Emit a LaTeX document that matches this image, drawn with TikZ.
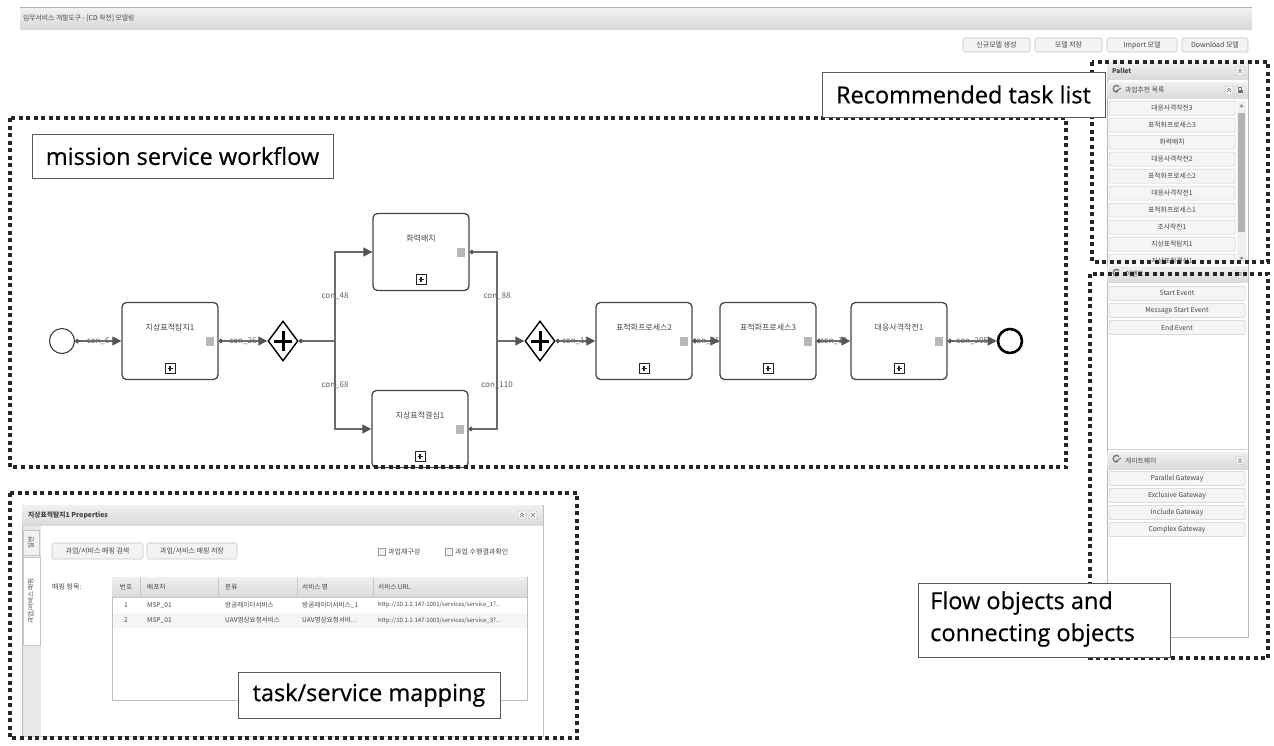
\documentclass[tikz,border=0pt]{standalone}
\usepackage{fontspec}
\setmainfont{Noto Sans CJK KR}
\newfontfamily\lblfont{Open Sans}[FakeBold=0.5]
\usetikzlibrary{arrows.meta,shapes.geometric}
\definecolor{lnc}{HTML}{6B6B6B}
\definecolor{arc}{HTML}{555555}
\definecolor{txc}{HTML}{474747}
\definecolor{btnf}{HTML}{F3F3F3}
\definecolor{btnd}{HTML}{C6C6C6}
\definecolor{hdrt}{HTML}{F0F0F0}
\definecolor{hdrb}{HTML}{DADADA}
\tikzset{
  fsz/.style={font=\fontsize{#1}{#1}\selectfont},
  dotframe/.style={draw=black!85, line width=4pt, dash pattern=on 4pt off 3.5pt},
  lblbox/.style={draw=black!65, fill=white, line width=0.8pt, inner sep=0pt,
    font=\lblfont\fontsize{23.5}{26}\selectfont, text=black},
  task/.style={draw=black!72, line width=1.3pt, rounded corners=4.5pt, fill=white,
    minimum width=96pt, minimum height=77pt, inner sep=0pt},
  tasktext/.style={font=\fontsize{8}{8}\selectfont, text=txc, inner sep=0pt},
  portsq/.style={fill=black!28, minimum width=8pt, minimum height=9pt, inner sep=0pt},
  plusic/.style={draw=black!85, line width=1pt, minimum size=10pt, inner sep=0pt,
    path picture={\draw[line width=1.1pt]
      ([xshift=2.5pt]path picture bounding box.west) -- ([xshift=-2.5pt]path picture bounding box.east)
      ([yshift=-2.5pt]path picture bounding box.north) -- ([yshift=2.5pt]path picture bounding box.south);}},
  gate/.style={diamond, draw=black, line width=1.4pt, fill=white, minimum width=30pt,
    minimum height=40pt, inner sep=0pt,
    path picture={\draw[line width=3pt]
      ([xshift=-9pt]path picture bounding box.center) -- ([xshift=9pt]path picture bounding box.center)
      ([yshift=-10pt]path picture bounding box.center) -- ([yshift=10pt]path picture bounding box.center);}},
  startev/.style={circle, draw=black!80, line width=1pt, minimum size=25pt, inner sep=0pt, fill=white},
  endev/.style={circle, draw=black, line width=2.6pt, minimum size=24pt, inner sep=0pt, fill=white},
  flow/.style={draw=lnc, line width=1.2pt,
    {Circle[length=4.5pt,color=arc]}-{Triangle[length=9pt,width=9pt,color=arc]}},
  flowline/.style={draw=lnc, line width=1.2pt, {Circle[length=4.5pt,color=arc]}-},
  flowend/.style={draw=lnc, line width=1.2pt, -{Triangle[length=9pt,width=9pt,color=arc]}},
  conlab/.style={font=\fontsize{8}{8}\selectfont, text=black!62, inner sep=0pt},
  btn/.style={draw=btnd, fill=btnf, rounded corners=1.5pt, line width=0.6pt,
    font=\fontsize{7}{8}\selectfont, text=txc, inner sep=0pt, minimum height=14pt},
  palitem/.style={draw=black!20, fill=black!4, rounded corners=1pt, line width=0.5pt,
    minimum height=14pt, inner sep=0pt, font=\fontsize{6.8}{8}\selectfont, text=txc},
  uitext/.style={font=\fontsize{7}{8}\selectfont, text=txc, inner sep=0pt},
  uibold/.style={font=\bfseries\fontsize{7}{8}\selectfont, text=black!75, inner sep=0pt},
  tcell/.style={font=\fontsize{6.6}{8}\selectfont, text=txc, inner sep=0pt, anchor=west},
}
\newcommand\mychev[3]{%
  \node[draw=black!30, fill=black!3, rounded corners=1pt, minimum size=8pt, inner sep=0pt] (#1) at (#2,#3) {};
  \draw[black!55, line width=0.5pt] (#2-2,#3) -- (#2,#3-2) -- (#2+2,#3) (#2-2,#3+2.2) -- (#2,#3+0.2) -- (#2+2,#3+2.2);}
\newcommand\mktask[4]{%
  \node[task] (#1) at (#2,#3) {};
  \node[tasktext] (#1l) at (#2,#3-13.5) {#4};
  \node[plusic] (#1p) at (#2,#3+27.5) {};
  \node[portsq] (#1q) at (#2+40,#3) {};}
\begin{document}
\begin{tikzpicture}[x=1pt,y=-1pt]
\useasboundingbox (0,0) rectangle (1274,745);
\fill[white] (0,0) rectangle (1274,745);

% ---------- top bar ----------
\shade[top color=black!5, bottom color=black!15] (20,7) rectangle (1252,29);
\draw[black!30, line width=0.6pt] (20,7.3) -- (1252,7.3);
\node[uitext, anchor=west, fsz=6.8] (title) at (23,18) {임무서비스 개발도구 - [CD 작전] 모델링};

\node[btn, minimum width=67pt] (b1) at (996.5,45) {신규모델 생성};
\node[btn, minimum width=67pt] (b2) at (1068.5,45) {모델 저장};
\node[btn, minimum width=70pt] (b3) at (1142,45) {Import 모델};
\node[btn, minimum width=66pt] (b4) at (1215,45) {Download 모델};

% ---------- pallet ----------
\draw[black!28, fill=white, line width=0.6pt] (1107,62) rectangle (1248,637);
\shade[top color=hdrt, bottom color=hdrb] (1107.5,62.5) rectangle (1247.5,79);
\node[uibold, anchor=west, fsz=6.5] (pal) at (1112,71) {\bfseries Pallet};
\mychev{palc}{1240}{71}

\shade[top color=hdrt, bottom color=hdrb] (1107.5,82) rectangle (1247.5,98);
\draw[black!55, line width=1.3pt] (1119,86.5) arc[start angle=40, end angle=300, radius=3.3pt];
\draw[black!55, line width=1pt] (1115,92) -- (1121,88);
\node[uitext, anchor=west, fsz=6.8] (sec1) at (1125,90) {과업추천 목록};
\mychev{sec1c}{1229}{90}
\node[draw=black!30, fill=black!3, rounded corners=1pt, minimum size=8pt, inner sep=0pt] (sec1p) at (1240,90) {};
\fill[black!55] (1237.5,90) rectangle (1242.5,93);
\draw[black!55, line width=0.6pt] (1238.5,90) -- (1238.5,87.5) -- (1241.5,87.5) -- (1241.5,90);

\begin{scope}
\clip (1108,100) rectangle (1247,264);
\foreach \t [count=\i from 0] in {대응사격작전3,표적화프로세스3,화력배치,대응사격작전2,표적화프로세스2,대응사격작전1,표적화프로세스1,조사작전1,지상표적탐지1,지상표적결심1}
  {\node[palitem, minimum width=126pt] (rec\i) at (1172,{108+17*\i}) {\t};}
\fill[black!6] (1237,101) rectangle (1246,264);
\fill[black!30] (1238,113) rectangle (1245,232);
\fill[black!45] (1239.5,107) -- (1241.5,104) -- (1243.5,107) -- cycle;
\fill[black!45] (1239.5,257) -- (1241.5,260) -- (1243.5,257) -- cycle;
\end{scope}

\shade[top color=hdrt, bottom color=hdrb] (1107.5,266) rectangle (1247.5,282);
\node[uitext, anchor=west, fsz=6.8] (sec2) at (1125,274) {이벤트};
\draw[black!55, line width=1.3pt] (1119,270.5) arc[start angle=40, end angle=300, radius=3.3pt];
\mychev{sec2c}{1240}{274}
\node[palitem, minimum width=136pt] (ev1) at (1177,293.5) {Start Event};
\node[palitem, minimum width=136pt] (ev2) at (1177,310.5) {Message Start Event};
\node[palitem, minimum width=136pt] (ev3) at (1177,327.5) {End Event};
\draw[black!18] (1108,449) -- (1247,449);

\shade[top color=hdrt, bottom color=hdrb] (1107.5,452) rectangle (1247.5,469);
\draw[black!55, line width=1.3pt] (1119,456.5) arc[start angle=40, end angle=300, radius=3.3pt];
\draw[black!55, line width=1pt] (1115,462) -- (1121,458);
\node[uitext, anchor=west, fsz=6.8] (sec3) at (1125,460.5) {게이트웨이};
\mychev{sec3c}{1240}{460.5}
\node[palitem, minimum width=136pt] (gw1) at (1177,478.5) {Parallel Gateway};
\node[palitem, minimum width=136pt] (gw2) at (1177,495.5) {Exclusive Gateway};
\node[palitem, minimum width=136pt] (gw3) at (1177,512.5) {Include Gateway};
\node[palitem, minimum width=136pt] (gw4) at (1177,529.5) {Complex Gateway};

% ---------- workflow ----------
\node[startev] (se) at (62,341) {};
\mktask{t1}{170}{341}{지상표적탐지1}
\node[gate] (g1) at (283,341) {};
\coordinate (j1) at (335,341);
\mktask{t2}{421}{252}{화력배치}
\mktask{t3}{420}{429}{지상표적결심1}
\coordinate (j2) at (497,341);
\node[gate] (g2) at (540,341) {};
\mktask{t4}{644}{341}{표적화프로세스2}
\mktask{t5}{768}{341}{표적화프로세스3}
\mktask{t6}{899}{341}{대응사격작전1}
\node[endev] (ee) at (1010,341) {};

\path (se) -- node[conlab] (c6) {con\_6} (t1);
\path (t1) -- node[conlab] (c26) {con\_26} (g1);
\path (j1) |- node[conlab, pos=0.25] (c48) {con\_48} (t2);
\path (j1) |- node[conlab, pos=0.25] (c68) {con\_68} (t3);
\path (t2) -| node[conlab, pos=0.75] (c88) {con\_88} (j2);
\path (t3) -| node[conlab, pos=0.75] (c110) {con\_110} (j2);
\path (g2) -- node[conlab] (c13) {con\_13} (t4);
\path (t4) -- node[conlab] (c15) {con\_15} (t5);
\path (t5) -- node[conlab] (c16) {con\_16} (t6);
\path (t6) -- node[conlab] (c205) {con\_205} (ee);

\draw[flow] (se) -- (t1);
\draw[flow] (t1) -- (g1);
\draw[flowline] (g1) -- (j1);
\draw[flowend] (j1) |- (t2);
\draw[flowend] (j1) |- (t3);
\draw[flowline] (t2) -| (j2);
\draw[flowline] (t3) -| (j2);
\draw[flowend] (j2) -- (g2);
\draw[flow] (g2) -- (t4);
\draw[flow] (t4) -- (t5);
\draw[flow] (t5) -- (t6);
\draw[flow] (t6) -- (ee);

% ---------- properties panel ----------
\node[draw=black!25, fill=white, minimum width=521pt, minimum height=231pt, anchor=north west, inner sep=0pt] (pp) at (22,505) {};
\shade[top color=hdrt, bottom color=hdrb] (22.5,505.5) rectangle (542.5,525);
\node[uibold, anchor=west, fsz=6.8] (ppt) at (28,515) {\bfseries 지상표적탐지1 Properties};
\mychev{ppc}{522}{515}
\node[draw=black!30, fill=black!3, rounded corners=1pt, minimum size=8pt, inner sep=0pt] (ppx) at (533,515) {};
\draw[black!55, line width=0.6pt] (531,513) -- (535,517) (531,517) -- (535,513);
\node[fill=black!9, minimum width=18pt, minimum height=210pt, anchor=north west, inner sep=0pt] (tabs) at (22.5,525.5) {};
\node[draw=black!22, fill=black!5, minimum width=16pt, minimum height=25pt, anchor=north west, inner sep=0pt] (tab1) at (23,530) {};
\node[uitext, rotate=90, fsz=6.5] (tab1t) at (31,542.5) {일반};
\node[draw=black!22, fill=white, minimum width=17pt, minimum height=88pt, anchor=north west, inner sep=0pt] (tab2) at (23,557) {};
\node[uitext, rotate=90, fsz=6.5] (tab2t) at (31,601) {과업/서비스 매핑};

\node[btn, minimum width=91pt, minimum height=16pt] (pb1) at (97.5,551) {과업/서비스 매핑 검색};
\node[btn, minimum width=90pt, minimum height=16pt] (pb2) at (192,551) {과업/서비스 매핑 저장};
\node[draw=black!40, fill=black!5, minimum size=7pt, inner sep=0pt] (cb1) at (381.5,551.5) {};
\node[uitext, anchor=west] (cb1t) at (388,551.5) {과업재구성};
\node[draw=black!40, fill=black!5, minimum size=7pt, inner sep=0pt] (cb2) at (448.5,551.5) {};
\node[uitext, anchor=west] (cb2t) at (455,551.5) {과업 수행결과확인};
\node[uitext, anchor=west] (mp) at (52,587) {매핑 항목:};

\node[draw=black!25, fill=white, minimum width=415pt, minimum height=123pt, anchor=north west, inner sep=0pt] (tbl) at (112,577) {};
\shade[top color=hdrt, bottom color=hdrb] (112.5,577.5) rectangle (526.5,597);
\draw[black!22] (112,597) -- (527,597);
\foreach \xx in {140,218,297,373} {\draw[black!22] (\xx,577.5) -- (\xx,597);}
\fill[black!4] (112.5,613) rectangle (526.5,628);
\node[tcell, anchor=center] (h1) at (126,587) {번호};
\node[tcell] (h2) at (147,587) {배포처};
\node[tcell] (h3) at (225,587) {분류};
\node[tcell] (h4) at (302,587) {서비스 명};
\node[tcell] (h5) at (378,587) {서비스 URL};
\node[tcell, anchor=center] (r11) at (126,605) {1};
\node[tcell] (r12) at (147,605) {MSP\_01};
\node[tcell] (r13) at (225,605) {방공레이더서비스};
\node[tcell] (r14) at (302,605) {방공레이더서비스\_1};
\node[tcell, fsz=6] (r15) at (378,605) {http://10.1.2.147:1001/services/service\_1?...};
\node[tcell, anchor=center] (r21) at (126,620.5) {2};
\node[tcell] (r22) at (147,620.5) {MSP\_01};
\node[tcell] (r23) at (225,620.5) {UAV영상요청서비스};
\node[tcell] (r24) at (302,620.5) {UAV영상요청서비...};
\node[tcell, fsz=6] (r25) at (378,620.5) {http://10.1.2.147:1003/services/service\_3?...};

% ---------- dotted frames ----------
\draw[dotframe] (1092,62) rectangle (1268,262);
\draw[dotframe] (10,118) rectangle (1066,467);
\draw[dotframe] (1090,274) rectangle (1268,658);
\draw[dotframe] (10,493) rectangle (577,738);

% ---------- callouts ----------
\node[lblbox, minimum width=301pt, minimum height=44pt] (Lwf) at (182.5,156) {mission service workflow};
\node[lblbox, minimum width=283pt, minimum height=45pt] (Lrec) at (963.5,94.5) {Recommended task list};
\node[lblbox, minimum width=262pt, minimum height=46pt] (Lmap) at (369,695) {task/service mapping};
\node[lblbox, minimum width=252pt, minimum height=74pt] (Lflow) at (1044,620) {};
\node[anchor=west, align=left, inner sep=0pt, font=\lblfont\fontsize{23.5}{32}\selectfont] (Lflowt) at (930,619) {Flow objects and\\connecting objects};
\end{tikzpicture}
\end{document}
